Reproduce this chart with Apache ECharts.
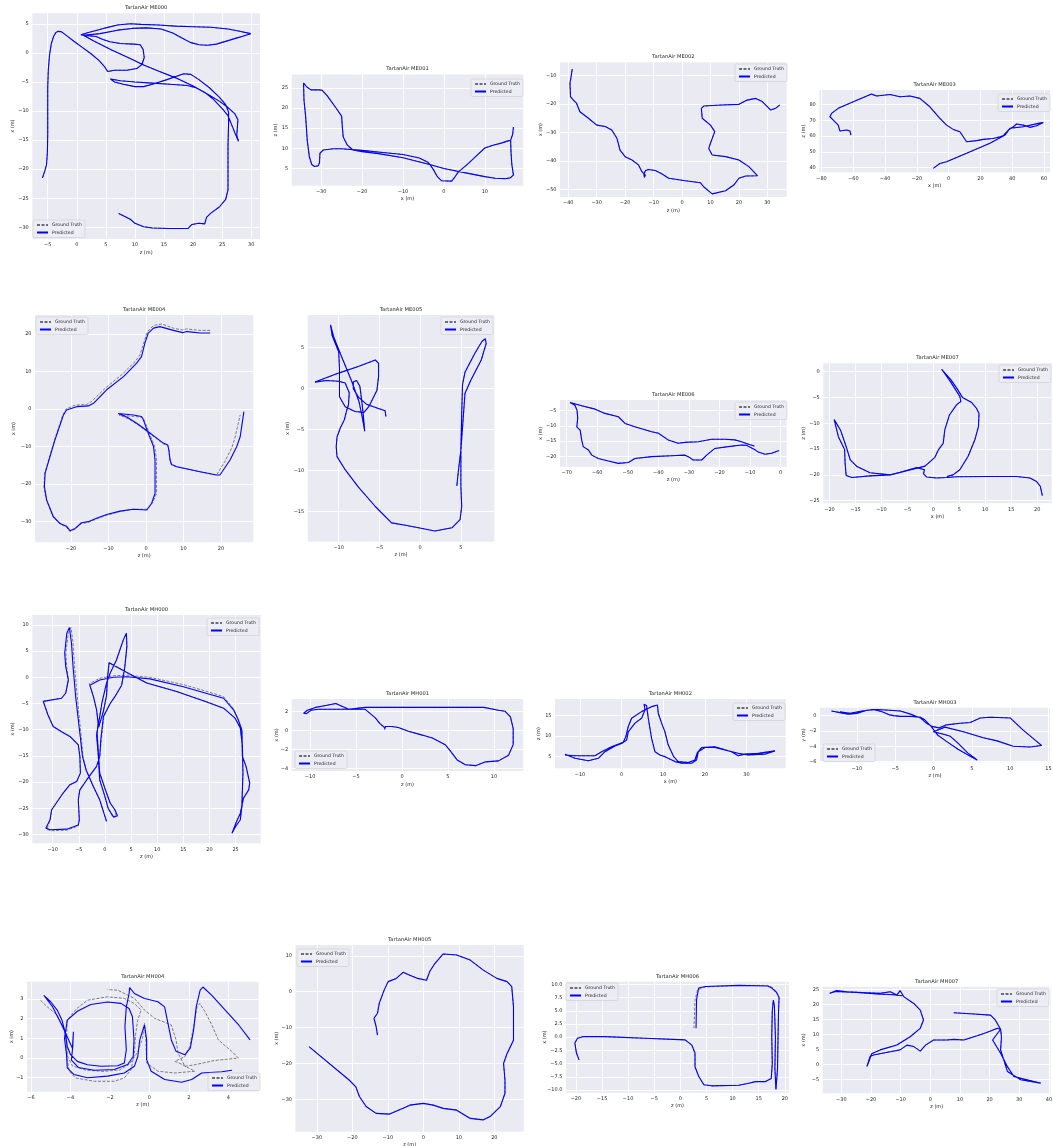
<!DOCTYPE html>
<html>
<head>
<meta charset="utf-8">
<script src="https://cdn.jsdelivr.net/npm/echarts@6/dist/echarts.min.js"></script>
<style>
  html, body { margin: 0; padding: 0; background: #ffffff; }
  #chart { width: 1053px; height: 1146px; }
</style>
</head>
<body>
<div id="chart"></div>
<script>
// ---------------------------------------------------------------
// Trajectories: [horizontal, vertical] positions in metres
// ---------------------------------------------------------------
const me000_pred = [[-5.9,-21.5],[-5.5,-20.3],[-5.2,-19.2],[-5.05,-17],[-5.0,-14],[-5.0,-10],[-5.0,-6],[-4.9,-3],[-4.7,-0.5],[-4.4,1.5],[-4.0,2.8],[-3.6,3.5],[-3.2,3.7],[-2.6,3.6],[-1.8,3.0],[-0.5,2.0],[1.0,0.9],[2.5,-0.2],[3.8,-1.3],[4.8,-2.4],[5.3,-3.2],
  [6.5,-3.0],[8.6,-3.0],[10.3,-2.7],[11.2,-2.0],[11.6,-0.8],[11.4,0.6],[10.9,1.4],[9.8,1.5],[7.5,1.6],[5.7,1.9],[4.5,2.3],[3.3,2.8],[1.5,3.0],[0.7,3.1],
  [2.0,3.5],[3.5,3.9],[5.0,4.3],[7.0,4.8],[9.2,5.0],[11,4.9],[14,4.8],[17,4.6],[20,4.5],[23,4.4],[26,4.1],[28,3.7],[29.9,3.3],[28,2.7],[26,2.1],[24,1.5],[22.5,1.3],[21,1.4],[19.5,1.8],[18,2.6],[16.5,3.4],[14.5,4.1],[12,4.3],[9.5,4.2],[7,3.9],[4,3.3],[1.2,3.0],
  [3,2.0],[6,0.5],[9,-0.9],[11.5,-2.1],[14,-3.1],[17,-4.3],[20,-5.7],[22.5,-7.1],[24.5,-8.3],[26,-9.4],[27.2,-10.5],[27.7,-11.5],[27.6,-13],[27.5,-14.2],[27.8,-15.2],
  [27.2,-13.8],[26.6,-12.3],[26.0,-10.8],[25.0,-9.6],[23.5,-8.0],[22,-6.8],[20.5,-6.0],[19,-5.6],[16,-5.4],[13,-5.2],[10,-5.0],[7.5,-4.8],[5.8,-4.5],
  [6.5,-5.0],[8,-5.4],[10,-5.8],[11.5,-5.8],[13,-5.4],[15.5,-4.6],[18.4,-3.6],[19.6,-3.7],[21,-4.6],[22.8,-6.0],[24.5,-7.6],[25.6,-8.9],[26.1,-10.2],[26.1,-12],[26.0,-16],[26.0,-20],[26.0,-23.5],[25.6,-25.2],[24.5,-26.5],[23,-27.6],[22.3,-28.3],[22,-29.4],[21,-29.3],[19.8,-29.5],[19.1,-30.2],[18,-30.2],[16,-30.2],[13,-30.1],[11.5,-29.9],[10,-29.3],[9.2,-28.6],[8,-28.0],[7.2,-27.6]];
const me000_gt = me000_pred;

const me001_pred = [[17.0,15.3],[16.8,13.5],[16.3,12.0],[16.4,9],[16.6,6],[17.0,3.4],[16.2,2.7],[15,2.5],[12.5,2.6],[10,3.0],[5,4.0],[0,5.0],[-3.5,6.0],[-10,7.7],[-16,8.7],[-20,9.2],[-22.2,9.6],[-23.6,10.8],[-24.6,12.8],[-24.8,15],[-25,18],[-26.5,20.2],[-28.5,23],[-29.8,24.4],[-30.5,24.5],[-32.5,24.5],[-33.5,25.2],[-34.3,26.2],[-34.6,25.8],[-34.2,22],[-33.8,18],[-33.4,12],[-32.9,8],[-32.3,6],[-31.6,5.5],[-30.7,5.7],[-30.4,6.5],[-30.3,8.8],[-29.5,9.6],[-27,9.9],[-25,9.9],[-20,9.5],[-15,9.0],[-10,8.5],[-6,7.6],[-3.8,6.5],[-2.6,4.8],[-1.6,3.0],[-0.6,2.0],[1.9,1.9],[2.6,2.8],[3.4,4.0],[4.5,5.0],[6,6.3],[8,8.2],[10,10.1],[12,10.8],[14,11.3],[15.5,11.8],[16.3,12.0]];
const me001_gt = me001_pred;

const me002_pred = [[-38.6,-7.7],[-39,-10.4],[-39.4,-12.7],[-39.2,-17.4],[-38.2,-18.6],[-37.1,-19.7],[-35.9,-22.7],[-32.9,-25],[-30,-27.4],[-27,-27.9],[-24.7,-29.1],[-22.9,-32],[-21.8,-36.2],[-20,-38.5],[-17.6,-39.7],[-15.3,-41.4],[-14.1,-43.8],[-12.9,-45],[-13.2,-45.8],[-13.4,-44.6],[-12.8,-43.4],[-11.8,-43],[-9.4,-43.4],[-7,-44.6],[-4.7,-46.1],[1.2,-47],[6.5,-47.7],[7.6,-49.1],[10.6,-51.6],[15.3,-50.5],[18.2,-48.5],[20,-46.1],[22.4,-45.3],[26.5,-45.2],[23.5,-42],[20,-39.7],[15.3,-38.5],[10.6,-37.9],[9.4,-35.6],[10,-33.8],[11.5,-29.7],[10,-27.4],[7.1,-25],[6.8,-21.5],[7.6,-20.7],[14.1,-20.3],[20,-20.1],[22.9,-18.6],[25.9,-18],[28.2,-19.1],[31.2,-22.1],[32.9,-21.5],[34.4,-20.3]];
const me002_gt = me002_pred;

const me003_pred = [[-61.5,60.6],[-62.1,63.2],[-64.2,63.8],[-68.4,63.2],[-69.5,66.9],[-72.6,70.1],[-74.7,72.2],[-73.7,74.3],[-69.5,77.5],[-60,81.7],[-48.5,86.5],[-45.3,85.3],[-36.9,86.3],[-30.6,84.8],[-24.3,85.3],[-18.1,83.8],[-11.8,78.5],[-5.5,71.2],[-1.3,66.9],[2.9,64.2],[7.1,62.7],[9.2,59.6],[11.3,56.4],[17.6,57.1],[21.8,57.9],[28.1,58.5],[32.3,59.6],[34.4,60.2],[37.6,63.8],[40.7,65.9],[42.8,67.6],[47,66.9],[51.2,65.5],[55.4,66.5],[59.6,68.6],[56.4,68],[47,65.9],[38.6,64.9],[35.5,60.6],[26,55.4],[11.3,49.1],[-1.3,43.8],[-5.5,42.7],[-9.7,39.6]];
const me003_gt = me003_pred;

const me004_pred = [[17.1,20.2],[14.4,20.2],[11.7,20.5],[10.8,20.6],[9.8,20.3],[7.3,20.9],[3.7,21.9],[2,21.5],[0.6,20.2],[-0.3,17.5],[-1.2,13.9],[-2.5,12.2],[-6,8.6],[-10.5,5.1],[-14,1.5],[-15.4,0.8],[-18.5,0.6],[-21.2,-0.3],[-22,-1.6],[-24.3,-8.3],[-26.9,-17.1],[-27.1,-20.7],[-26.5,-24.2],[-24.7,-28.7],[-22.9,-30.5],[-21.2,-31.2],[-20.3,-32.4],[-18.9,-31.8],[-17.2,-30.3],[-15.4,-30],[-13.2,-29.1],[-10.5,-28.1],[-6.9,-27.2],[-3.4,-26.7],[0.2,-26.9],[1.5,-25.1],[2.4,-22.5],[2.4,-13.6],[2,-10],[0.6,-6.5],[-0.7,-2.9],[-1.2,-2],[-3.4,-1.6],[-7.4,-1.2],[-5,-2.2],[-2.5,-3.8],[0,-5.6],[2.5,-7.5],[4.6,-9.1],[5.8,-9.6],[6.1,-11],[6.4,-13.6],[6.8,-14.8],[8.2,-15.4],[14.4,-16.7],[18.8,-17.6],[19.7,-17.6],[22.4,-13.6],[24.2,-10],[25.1,-7.4],[25.5,-4.7],[26.1,-0.7]];
const me004_gt = [[17.1,20.9],[14.4,20.9],[11.7,21.2],[10.8,21.3],[9.8,21.0],[7.3,21.5],[4.2,22.6],[2,22.2],[0.4,20.6],[-0.5,17.9],[-1.6,14.4],[-2.9,12.6],[-6.5,9.1],[-10.9,5.5],[-14.5,2.0],[-15.8,1.2],[-18.9,1.0],[-21.3,0],[-22.2,-1.6],[-24.4,-8.3],[-27.0,-17.1],[-27.2,-20.7],[-26.6,-24.2],[-24.8,-28.7],[-23,-30.6],[-21.3,-31.4],[-20.3,-32.6],[-18.9,-32.0],[-17.2,-30.5],[-15.4,-30.2],[-13.2,-29.3],[-10.5,-28.3],[-6.9,-27.3],[-3.4,-26.7],[0.4,-26.7],[1.8,-24.9],[2.8,-22.5],[2.8,-13.6],[2.3,-10],[0.9,-6.5],[-0.5,-2.9],[-1.2,-2.2],[-3.4,-2.0],[-7.2,-1.6],[-4.8,-2.6],[-2.3,-4.1],[0.2,-6.0],[2.6,-7.8],[4.6,-9.3],[5.8,-9.8],[6.1,-11.2],[6.4,-13.6],[6.8,-14.8],[8.2,-15.4],[14.4,-16.7],[18.8,-17.6],[21,-14],[22.8,-10.5],[23.7,-7.8],[24.4,-4.7],[25.1,-1.6]];

const me005_pred = [[-4.2,-3.4],[-4.3,-2.7],[-5.2,-2.4],[-6.6,-1.9],[-7.6,-1.0],[-8.2,0.0],[-8.2,0.8],[-7.8,1.0],[-7.4,0.3],[-7.2,-1.2],[-7.0,-3.0],[-6.8,-5.2],[-7.1,-3.5],[-7.5,-1.6],[-8.4,0.9],[-9.8,4.3],[-10.6,6.3],[-11,7.8],[-10.8,6.5],[-10,4.5],[-9.9,2.5],[-9.9,-1.0],[-9.2,-2.2],[-8,-2.8],[-6.9,-2.9],[-6.3,-2.2],[-5.3,-0.2],[-5.1,1.5],[-5.1,3.1],[-5.5,3.5],[-7.6,2.7],[-10,1.9],[-12.9,0.8],[-11.5,1.0],[-10,0.9],[-9.2,0.7],[-8.7,-0.5],[-8.8,-2],[-9,-2.6],[-9.3,-3.8],[-9.8,-4.8],[-10.2,-5.9],[-10.3,-7.1],[-10.2,-8.3],[-9.2,-9.9],[-7.6,-12],[-5.5,-14.4],[-3.5,-16.4],[-1.8,-16.7],[-0.2,-17],[1.8,-17.4],[3.9,-17],[4.9,-16],[5.1,-14.4],[5.0,-12],[5.0,-7.5],[5.1,-3],[5.2,0.5],[5.5,2.0],[6.7,4.3],[7.6,5.8],[8.0,6.1],[8.1,5.5],[7.5,3.5],[6.2,1.0],[5.5,-0.6],[5.3,-3.4],[5.0,-7.5],[4.7,-10],[4.5,-11.9]];
const me005_gt = me005_pred;

const me006_pred = [[-8.6,-16.6],[-10.5,-16.0],[-12.8,-15.2],[-15,-14.6],[-18.2,-14.4],[-22.6,-14.4],[-26.9,-15.2],[-31.3,-15.4],[-33.5,-15.7],[-36.8,-14.6],[-40,-12.4],[-42.2,-11.9],[-47.7,-10.3],[-50.9,-9.2],[-53.1,-7],[-57.5,-5.9],[-60.7,-4.5],[-65.1,-3.4],[-68.9,-2.3],[-67.3,-3.2],[-66.6,-5],[-66.4,-7.5],[-66.7,-10.3],[-65.6,-11.4],[-65.1,-14.6],[-64.6,-16.8],[-62.9,-17.9],[-61.8,-19.6],[-59.7,-20.7],[-56.4,-21.5],[-53.1,-22.3],[-49.8,-22],[-47.7,-20.7],[-42.2,-20.1],[-35.7,-19.8],[-31.3,-19.6],[-30.2,-20.1],[-28.6,-21.2],[-25.8,-21.2],[-24.2,-19.6],[-21.5,-17.4],[-17.1,-16.8],[-12.8,-16.3],[-11.1,-16.4],[-9.8,-17.1],[-8.4,-17.8],[-7.3,-18.6],[-5.1,-19.3],[-2.9,-19],[-0.5,-18.1]];
const me006_gt = me006_pred;

const me007_pred = [[21,-24],[20.6,-22.2],[19.9,-21.3],[18.6,-20.6],[16,-20.3],[10.9,-20.3],[4.5,-20.35],[2.6,-20.5],[0.6,-20.6],[-1.3,-20.4],[-1.9,-19.8],[-1.7,-19.0],[-3.2,-18.6],[-6.4,-19.5],[-8.3,-20.0],[-12.2,-20.2],[-15.7,-20.5],[-16.8,-20.1],[-17,-17.7],[-17.1,-15.1],[-18.3,-12.6],[-19.1,-9.3],[-18.9,-9.0],[-17.9,-11.3],[-16.8,-14.5],[-16,-17.1],[-14.7,-18.4],[-12.2,-19.6],[-8.3,-20.0],[-5.1,-19.2],[-1.6,-18.3],[0.3,-16.6],[1,-15.1],[1.9,-13.9],[2.2,-11.3],[3.1,-8.4],[4.5,-6.4],[5.3,-5.8],[5.1,-4.8],[3.2,-1.8],[1.6,0.45],[3.4,-1.6],[4.7,-3.5],[5.6,-5.0],[7.4,-6.0],[8.3,-7.1],[8.8,-8.1],[8.7,-10.6],[8.0,-13.2],[6.7,-16.4],[5.1,-19],[3.8,-20.0],[2.6,-20.3]];
const me007_gt = me007_pred;

const mh000_pred = [[0.3,-27.5],[-1,-23.4],[-2.2,-20.9],[-3.6,-17.7],[-4.3,-15.1],[-4.8,-10.7],[-5.6,-3.7],[-6.1,2],[-6.4,6.5],[-6.8,9.5],[-7,9.8],[-7.3,8.4],[-7.7,4.6],[-7.5,2],[-7,-0.5],[-7.5,-3],[-8.3,-4],[-11.8,-4.6],[-10.9,-7.2],[-9.9,-9.4],[-8.3,-10.4],[-6.7,-11.3],[-5.1,-12.9],[-4.8,-15.1],[-4.7,-18.3],[-5.4,-19.9],[-6.7,-20.5],[-8,-22.1],[-9.3,-24],[-10.2,-25.3],[-10.5,-27.2],[-11.3,-28.8],[-10.5,-29.1],[-7.3,-29],[-5.1,-28.2],[-4.9,-27.2],[-5.1,-23.4],[-4.8,-21.5],[-3.5,-19.6],[-1.6,-17],[-1.0,-15.1],[-0.8,-12],[-0.3,-7.5],[1,-5],[1.9,-3.7],[3.2,-1.5],[3.8,2],[4.2,5.9],[4.1,8.4],[3.5,7.1],[2.2,3.3],[1,0.8],[0.3,-1.1],[-0.6,-5],[-1.0,-7.5],[-1.6,-11],[-1.3,-14.5],[-1.0,-19.6],[0,-22.8],[0.6,-25],[1.6,-26.6],[2.4,-26.5],[1.9,-25.3],[1,-24],[0.3,-22.1],[-1,-18.3],[-1.3,-13.9],[-1.5,-10.7],[-1.3,-8.8],[-1.6,-6.2],[-2.2,-3.7],[-2.9,-1.5],[-1,-0.5],[1.6,0],[4.2,0.1],[8.6,-0.3],[15,-1.8],[19.5,-3.1],[22.7,-4],[24.6,-6.2],[25.5,-8.1],[26.2,-10.1],[26.3,-15.1],[27,-17],[27.7,-20.2],[27.5,-21.5],[26.5,-23.1],[25.9,-26],[25.2,-27.5],[24.3,-29.8],[25.0,-28.5],[25.9,-27.2],[26.2,-24.6],[26.4,-18.3],[26.3,-13],[25.9,-9.7],[24.9,-7.8],[22.7,-5.9],[19.5,-4.7],[13.7,-2.7],[8,-1.1],[4.2,0.9],[0.8,2.8],[0.5,0],[0.3,-3.5],[-0.3,-6.5],[-1.2,-9.5]];
const mh000_gt = [[0.3,-27.5],[-1,-23.4],[-2.2,-20.9],[-3.6,-17.7],[-4.2,-15.1],[-4.6,-10.7],[-5.3,-3.7],[-5.8,2],[-6.1,6.5],[-6.5,9.5],[-6.7,9.8],[-7.0,8.4],[-7.5,4.6],[-7.3,2],[-7,-0.5],[-7.5,-3],[-8.3,-4],[-11.8,-4.6],[-10.9,-7.2],[-9.9,-9.4],[-8.3,-10.4],[-6.7,-11.3],[-5.1,-12.9],[-4.8,-15.1],[-4.7,-18.3],[-5.4,-19.9],[-6.7,-20.5],[-8,-22.1],[-9.3,-24],[-10.2,-25.3],[-10.5,-27.2],[-11.1,-29.0],[-10.3,-29.3],[-7.3,-29.2],[-5.1,-28.4],[-4.9,-27.2],[-5.1,-23.4],[-4.8,-21.5],[-3.5,-19.6],[-1.6,-17],[-1.0,-15.1],[-0.7,-12],[-0.2,-7.5],[1,-5],[1.9,-3.7],[3.2,-1.5],[3.8,2],[4.2,5.9],[4.1,8.4],[3.5,7.1],[2.2,3.3],[1,0.8],[0.3,-1.1],[-0.6,-5],[-1.0,-7.5],[-1.6,-11],[-1.3,-14.5],[-1.0,-19.6],[0,-22.8],[0.6,-25],[1.6,-26.8],[2.2,-26.6],[1.9,-25.3],[1,-24],[0.3,-22.1],[-1,-18.3],[-1.3,-13.9],[-1.5,-10.7],[-1.3,-8.8],[-1.6,-6.2],[-2.2,-3.7],[-3.0,-1.2],[-1,-0.2],[1.6,0.3],[4.2,0.4],[8.6,0.0],[15,-1.4],[19.5,-2.7],[22.7,-3.7],[24.6,-6.0],[25.5,-8.0],[26.2,-10.1],[26.3,-15.1],[27,-17],[27.7,-20.2],[27.5,-21.5],[26.5,-23.1],[25.9,-26],[25.2,-27.5],[24.3,-29.8],[25.0,-28.5],[25.9,-27.2],[26.2,-24.6],[26.4,-18.3],[26.3,-13],[25.9,-9.7],[24.9,-7.8],[22.7,-5.9],[19.5,-4.7],[13.7,-2.7],[8,-1.1],[4.2,0.9],[0.8,2.8],[0.5,0],[0.3,-3.5],[-0.3,-6.5],[-1.2,-9.5]];

const mh001_pred = [[-1.9,0.1],[-1.8,0.4],[-1.1,0.4],[-0.4,0.3],[0.7,-0.1],[2.2,-0.5],[3.3,-0.8],[4.7,-1.5],[5.3,-2.2],[6,-3.1],[6.9,-3.6],[8,-3.7],[9.1,-3.3],[10.5,-3.2],[11.6,-2.6],[12.1,-1.5],[12.1,0.2],[11.8,1.4],[11.2,2.0],[10.5,2.1],[8.9,2.4],[6.9,2.4],[2,2.4],[-0.4,2.4],[-4,2.4],[-5.8,2.2],[-7.2,2.8],[-8.3,2.6],[-9.4,2.4],[-10.3,2.1],[-10.7,1.8],[-10.4,1.75],[-9.9,2.1],[-9.1,2.2],[-7.6,2.2],[-5.8,2.2],[-4,2.2],[-2.9,1.3],[-2.4,0.7],[-1.9,0.3]];
const mh001_gt = mh001_pred;

const mh002_pred = [[-13.6,5.6],[-11.2,4.6],[-8,4],[-5.6,4.6],[-4,6.2],[-1.6,7.6],[0,8.2],[1.2,9],[1.6,11],[3.2,13.1],[4.8,14.3],[5.6,16.3],[5.4,17.7],[6,17.3],[6.4,14.3],[7.2,9.4],[8,6.2],[9.2,5.4],[10.4,5],[12.8,3.8],[14.4,3.4],[16.8,3.4],[18,4.2],[18.4,6.2],[20,7.2],[22.4,7.2],[24.8,6.6],[28,5.8],[30.4,5.4],[34.4,5.6],[36.8,6.4],[32.8,5.8],[29.6,5.6],[28,5.2],[26.4,6.2],[22.4,7.4],[19.2,7.2],[18.2,6],[17.6,4.2],[16,3.6],[13.6,3.8],[12.5,5],[11.2,7.8],[10.4,11],[9.6,13.1],[8.8,15.5],[8.6,17.5],[7.2,17.1],[4.8,15.9],[2.4,14.3],[1.6,12.3],[1,9.8],[0.4,8.5],[-2.4,7.4],[-4.8,6.2],[-6.4,5.2],[-8.8,5.2],[-11.2,5.2],[-13.6,5.4]];
const mh002_gt = mh002_pred;

const mh003_pred = [[-13.3,0.6],[-12.2,0.4],[-11.1,0.2],[-10,0.3],[-8.7,0.7],[-7.4,0.8],[-5.7,0.7],[-4.3,0.6],[-3,0.2],[-1.7,-0.3],[-0.9,-1],[-0.2,-1.4],[0.7,-1.6],[1.7,-1.2],[3.5,-1],[4.8,-0.9],[6.1,-0.3],[7.4,-0.2],[10,-0.3],[11.7,-1.9],[13.5,-3.4],[14.1,-3.9],[12.6,-4.1],[10.4,-4],[8.3,-3.3],[6.5,-2.9],[3.9,-2.1],[1.5,-1.5],[0,-2.1],[1.2,-2.4],[2.2,-2.7],[3.2,-3.6],[4.5,-4.9],[5.7,-5.8],[4.8,-5.3],[3.2,-4.4],[1.6,-3.3],[0.5,-2.5],[-0.3,-1.4],[-1.2,-0.5],[-1.7,-0.2],[-3,-0.1],[-4.3,-0.1],[-5.2,0],[-5.7,0.1],[-6.7,0.5],[-7.8,0.8],[-9.3,0.6],[-10.9,0.3],[-12.2,0.5]];
const mh003_gt = mh003_pred;

const mh004_pred = [[4.18,-0.62],[3.67,-0.70],[2.65,-0.76],[2.14,-1.09],[1.63,-1.23],[0.77,-1.09],[0.09,-0.67],[-0.14,-0.08],[-0.14,0.92],[-0.25,1.68],[-0.35,1.6],[-0.49,0.92],[-0.59,0.08],[-0.76,-0.42],[-1.27,-0.76],[-2.12,-0.92],[-3.14,-1.0],[-3.82,-0.84],[-4.16,-0.5],[-4.2,0.2],[-4.3,1.0],[-4.16,1.93],[-3.65,2.38],[-2.97,2.72],[-2.12,2.85],[-1.44,2.78],[-1.03,2.52],[-0.86,2.1],[-0.78,0.92],[-0.82,0.08],[-1.1,-0.33],[-1.78,-0.58],[-2.8,-0.62],[-3.6,-0.48],[-3.95,-0.1],[-3.88,0.6],[-3.85,1.34],[-3.9,0.5],[-4.4,1.6],[-4.9,2.6],[-5.35,3.19],[-5.0,2.86],[-4.67,2.44],[-4.43,1.93],[-4.26,1.26],[-4.16,0.59],[-3.99,0.17],[-3.65,-0.17],[-3.14,-0.34],[-2.46,-0.42],[-1.61,-0.39],[-1.27,-0.25],[-1.17,0.42],[-1.24,1.6],[-1.17,2.6],[-1.03,3.28],[-1.0,3.58],[-0.76,3.28],[-0.25,3.03],[0.43,2.86],[0.77,2.6],[0.94,1.76],[1.11,0.92],[1.35,0.34],[1.8,0.17],[2.07,0.5],[2.24,1.43],[2.37,2.6],[2.57,3.45],[2.71,3.61],[3.16,3.19],[3.84,2.44],[4.52,1.68],[5.1,0.92]];
const mh004_gt = [[-5.52,2.94],[-5.18,2.61],[-4.67,2.18],[-4.33,1.51],[-4.23,0.92],[-4.16,-0.08],[-4.06,-0.67],[-3.75,-1.01],[-2.8,-1.18],[-1.78,-1.18],[-1.27,-1.01],[-0.93,-0.59],[-0.76,0.25],[-0.7,1.2],[-0.6,1.9],[-0.42,2.44],[-0.76,2.77],[-1.27,3.03],[-2.12,3.11],[-3.14,2.94],[-3.7,2.5],[-4.16,1.93],[-4.2,1.0],[-4.15,0.1],[-3.9,-0.4],[-3.2,-0.62],[-2.3,-0.68],[-1.5,-0.6],[-1.0,-0.3],[-0.6,0.3],[-0.35,1.0],[-0.25,1.76],[-0.18,0.9],[-0.14,-0.25],[0.43,-0.67],[1.29,-0.76],[2.3,-0.67],[1.6,-0.3],[1.29,-0.17],[1.8,0.08],[2.04,0.59],[2.24,1.6],[2.41,2.6],[2.55,2.77],[2.82,2.35],[3.16,1.68],[3.49,0.92],[4.17,0.34],[4.51,0],[3.32,-0.12],[2.3,-0.34],[1.8,-0.42],[1.45,0.25],[1.35,0.92],[1.11,1.68],[0.26,2.02],[-0.25,2.44],[-0.76,3.03],[-1.61,3.45],[-2.12,3.48]];

const mh005_pred = [[-12.9,-12.1],[-13.3,-9.7],[-13.9,-7.4],[-12.9,-6],[-12.4,-3.2],[-11.0,0.5],[-9.9,2.8],[-7.6,3.7],[-5.7,5.4],[-3.8,4.6],[-1.6,3.7],[0.9,3.2],[1.8,5.6],[3.3,7.9],[5.6,10.5],[9.4,10.2],[13.2,8.8],[16.9,6],[20.7,3.7],[23.6,2.8],[24.9,1.4],[25.4,-4.2],[25.4,-13.5],[23.6,-17.2],[22.6,-20],[23,-24.6],[23,-28.3],[21.7,-32],[18.8,-34.8],[16.9,-35.7],[13.2,-35.3],[9.4,-33],[5.6,-32.5],[2.8,-31.6],[0,-31.1],[-3.8,-31.6],[-5.7,-32.5],[-9.5,-34.1],[-13.3,-33.9],[-16.1,-32],[-18,-29.2],[-19,-26.5],[-20.9,-24.6],[-32.2,-15.3]];
const mh005_gt = mh005_pred;

const mh006_pred = [[-19.4,-4.3],[-19.9,-3.0],[-20.2,-1.1],[-19.7,-0.2],[-18.7,0.1],[-14.5,0.1],[-6.8,-0.2],[0.9,-0.5],[2.2,-1.5],[2.8,-3.0],[2.8,-5.6],[3.5,-7.4],[4.5,-9.0],[6,-9.2],[11.2,-9.1],[13.1,-8.7],[14.4,-8.4],[16.3,-8.4],[17.4,-7.8],[17.6,-5],[17.5,0],[17.6,5],[17.8,7],[18.0,6],[18.2,0],[18.1,-6],[18.3,-9.9],[18.6,-6],[18.7,0],[18.8,5],[18.9,7.5],[18.4,8.5],[17.5,9.3],[16.7,9.7],[11.2,9.8],[4.8,9.6],[3.5,9.3],[3.1,7.1],[3.0,1.7]];
const mh006_gt = [[-19.4,-4.3],[-19.9,-3.0],[-20.2,-1.1],[-19.7,-0.2],[-18.7,0.1],[-14.5,0.1],[-6.8,-0.2],[0.9,-0.5],[2.2,-1.5],[2.8,-3.0],[2.8,-5.6],[3.5,-7.4],[4.5,-9.0],[6,-9.2],[11.2,-9.1],[13.1,-8.7],[14.4,-8.4],[16.3,-8.4],[17.4,-7.8],[17.6,-5],[17.5,0],[17.6,5],[17.8,7],[18.0,6],[18.2,0],[18.1,-6],[18.3,-9.9],[18.6,-6],[18.7,0],[18.8,5],[18.9,7.5],[18.4,8.5],[17.5,9.5],[16.7,9.8],[11.2,9.8],[4.8,9.5],[3.3,9.0],[2.8,7.0],[2.6,1.7]];

const mh007_pred = [[7.9,17.2],[14.7,16.8],[20.3,16.4],[21.9,14.8],[23.7,11.7],[21,8.1],[23.7,3.7],[26,-0.8],[28.2,-4.1],[35,-5.8],[37.2,-6.3],[30.5,-5.2],[26,-2.4],[23.7,4.8],[24,9],[23.7,11.7],[22.6,12],[20.3,11.1],[18.1,10.3],[14.7,9.2],[11.3,8.1],[7.9,8.3],[5.6,8.1],[1.1,8.1],[-1.6,6.4],[-3.4,4.4],[-5.6,5.9],[-7.9,6.4],[-10.2,4.8],[-13.5,4.2],[-19.2,3.1],[-20.3,2.6],[-21.4,-0.8],[-20.5,1.5],[-19.8,3.5],[-16.9,4.8],[-11.3,6.4],[-6.8,9.2],[-3.4,12],[-2.3,14.8],[-3.4,18.1],[-5.6,20.3],[-9,22.6],[-10.2,24.6],[-11.3,23.1],[-13.5,24.2],[-16.9,23.7],[-21.4,23.9],[-28.2,24.2],[-31.6,24.6],[-33.9,23.7],[-32,24.3],[-25,24],[-18,23.5],[-12.5,23.2],[-9.5,22.9]];
const mh007_gt = mh007_pred;

// Panel titles, axis names and tick values
const titles = ['TartanAir ME000','TartanAir ME001','TartanAir ME002','TartanAir ME003',
                'TartanAir ME004','TartanAir ME005','TartanAir ME006','TartanAir ME007',
                'TartanAir MH000','TartanAir MH001','TartanAir MH002','TartanAir MH003',
                'TartanAir MH004','TartanAir MH005','TartanAir MH006','TartanAir MH007'];
const xNames = ['z (m)','x (m)','z (m)','x (m)','z (m)','z (m)','z (m)','x (m)',
                'z (m)','z (m)','x (m)','z (m)','z (m)','z (m)','z (m)','z (m)'];
const yNames = ['x (m)','z (m)','x (m)','z (m)','x (m)','x (m)','x (m)','z (m)',
                'x (m)','x (m)','z (m)','y (m)','x (m)','x (m)','x (m)','x (m)'];
const xTicks = [[-5,0,5,10,15,20,25,30],[-30,-20,-10,0,10],[-40,-30,-20,-10,0,10,20,30],[-80,-60,-40,-20,0,20,40,60],
                [-20,-10,0,10,20],[-10,-5,0,5],[-70,-60,-50,-40,-30,-20,-10,0],[-20,-15,-10,-5,0,5,10,15,20],
                [-10,-5,0,5,10,15,20,25],[-10,-5,0,5,10],[-10,0,10,20,30],[-10,-5,0,5,10,15],
                [-6,-4,-2,0,2,4],[-30,-20,-10,0,10,20],[-20,-15,-10,-5,0,5,10,15,20],[-30,-20,-10,0,10,20,30,40]];
const yTicks = [[-30,-25,-20,-15,-10,-5,0,5],[5,10,15,20,25],[-50,-40,-30,-20,-10],[40,50,60,70,80],
                [-30,-20,-10,0,10,20],[-15,-10,-5,0,5],[-20,-15,-10,-5],[-25,-20,-15,-10,-5,0],
                [-30,-25,-20,-15,-10,-5,0,5,10],[-4,-2,0,2],[5,10,15],[-6,-4,-2,0],
                [-1,0,1,2,3],[-30,-20,-10,0,10],[-10,-7.5,-5,-2.5,0,2.5,5,7.5,10],[-5,0,5,10,15,20,25]];
const xRanges = [[-7.65,31.5],[-37.2,19.4],[-42.9,36.8],[-81.4,63.8],
                 [-29.6,28.6],[-13.8,9.1],[-72.2,2.0],[-21.2,22.8],
                 [-13.9,29.8],[-12,13.2],[-16,39.4],[-14.8,15.2],
                 [-6.2,5.53],[-36,28.3],[-21.9,20.8],[-36.3,40.6]];
const yRanges = [[-32.0,6.8],[0.76,28.3],[-52.7,-5.3],[37.1,89.1],
                 [-35.5,25.0],[-18.7,9.0],[-23.4,-1.5],[-25.5,1.6],
                 [-31.7,11.9],[-4.26,3.28],[2.18,18.95],[-6.1,1.04],
                 [-1.71,3.88],[-39,13],[-10.5,10.5],[-9.7,25.9]];
const predSeries = [me000_pred,me001_pred,me002_pred,me003_pred,me004_pred,me005_pred,me006_pred,me007_pred,
                    mh000_pred,mh001_pred,mh002_pred,mh003_pred,mh004_pred,mh005_pred,mh006_pred,mh007_pred];
const gtSeries = [me000_gt,me001_gt,me002_gt,me003_gt,me004_gt,me005_gt,me006_gt,me007_gt,
                  mh000_gt,mh001_gt,mh002_gt,mh003_gt,mh004_gt,mh005_gt,mh006_gt,mh007_gt];

// Plot boxes on the page: [left, top, width, height], legend corner, y-name gap
const boxes = [[32.3,13.3,227.7,225.7],[291.7,74.5,231.6,111.2],[560,62.3,226.7,134.7],[819.3,90,230.7,82.3],
               [35,315,218.3,227.3],[307.7,315,186.6,226.7],[560,400,226.7,66.7],[823.3,363.3,228.4,140],
               [32.3,615,228.4,228.3],[291.7,699,231.6,72],[555,699,230.7,69.3],[820,707.7,230,54.6],
               [27,981.7,231.6,110],[295.5,945,228.3,186.7],[566,981.7,223,111],[822.7,986.7,228,106.6]];
const legendAt = [[33,220],[471,79],[735,64],[998,94],
                  [36,317],[441,317],[735,402],[999,365],
                  [207,618],[295,751],[733,703],[823,744],
                  [208,1073],[297,949],[566,983],[997,989]];
const yNameGaps = [17,13,17,13,19,17,17,17,17,12,14,14,13,16,19,16];

const FONT = 'DejaVu Sans';
const INK = '#262626';
const fmtNum = v => (v < 0 ? '\u2212' : '') + Math.abs(v);
const fmtDec = v => (v < 0 ? '\u2212' : '') + Math.abs(v).toFixed(1);

const option = {
  animation: false,
  backgroundColor: '#ffffff',
  textStyle: { fontFamily: FONT },
  title: [], grid: [], xAxis: [], yAxis: [], legend: [], series: []
};

titles.forEach((t, i) => {
  const [l, top, w, h] = boxes[i];
  option.title.push({
    text: t, left: l + w / 2, top: top - 8, textAlign: 'center', padding: 0,
    textStyle: { fontSize: 5.2, fontWeight: 'normal', color: INK, fontFamily: FONT }
  });
  option.grid.push({
    left: l, top: top, width: w, height: h, show: true,
    backgroundColor: '#EAEAF2', borderWidth: 0, containLabel: false, outerBoundsMode: 'none'
  });
  const axisCommon = {
    type: 'value', gridIndex: i,
    axisLine: { show: false },
    splitLine: { show: true, lineStyle: { color: '#ffffff', width: 0.9 } },
    nameLocation: 'middle',
    nameTextStyle: { fontSize: 5, color: INK, fontFamily: FONT },
    nameMoveOverlap: false
  };
  option.xAxis.push(Object.assign({}, axisCommon, {
    min: xRanges[i][0], max: xRanges[i][1],
    axisTick: { show: false, customValues: xTicks[i] },
    axisLabel: { customValues: xTicks[i], fontSize: 5, color: INK, margin: 3.5, formatter: fmtNum, hideOverlap: false },
    name: xNames[i], nameGap: 11
  }));
  option.yAxis.push(Object.assign({}, axisCommon, {
    min: yRanges[i][0], max: yRanges[i][1],
    axisTick: { show: false, customValues: yTicks[i] },
    axisLabel: { customValues: yTicks[i], fontSize: 5, color: INK, margin: 3.5,
                 formatter: i === 14 ? fmtDec : fmtNum, hideOverlap: false },
    name: yNames[i], nameGap: yNameGaps[i], nameRotate: 90
  }));
  option.legend.push({
    left: legendAt[i][0], top: legendAt[i][1], orient: 'vertical',
    data: ['Ground Truth', 'Predicted'],
    itemWidth: 11, itemHeight: 4, itemGap: 2.5, padding: [2.5, 3, 2.5, 3],
    backgroundColor: 'rgba(236,236,244,0.85)', borderColor: '#cccccc', borderWidth: 0.6, borderRadius: 1.5,
    itemStyle: { color: 'rgba(0,0,0,0)', borderWidth: 0, opacity: 0 },
    textStyle: { fontSize: 4.6, color: INK, fontFamily: FONT, padding: [0, 0, 0, -1] },
    selectedMode: false
  });
  option.series.push({
    type: 'line', name: 'Ground Truth', xAxisIndex: i, yAxisIndex: i,
    data: gtSeries[i], symbol: 'none', showSymbol: false, silent: true, z: 2,
    lineStyle: { color: '#6e6e6e', width: 0.9, type: [3, 1.5] }, itemStyle: { color: '#6e6e6e' }
  });
  option.series.push({
    type: 'line', name: 'Predicted', xAxisIndex: i, yAxisIndex: i,
    data: predSeries[i], symbol: 'none', showSymbol: false, silent: true, z: 3,
    lineStyle: { color: '#0000ff', width: 1.1 }, itemStyle: { color: '#0000ff' }
  });
});

const chart = echarts.init(document.getElementById('chart'), null, { renderer: 'canvas' });
chart.setOption(option);
</script>
</body>
</html>
